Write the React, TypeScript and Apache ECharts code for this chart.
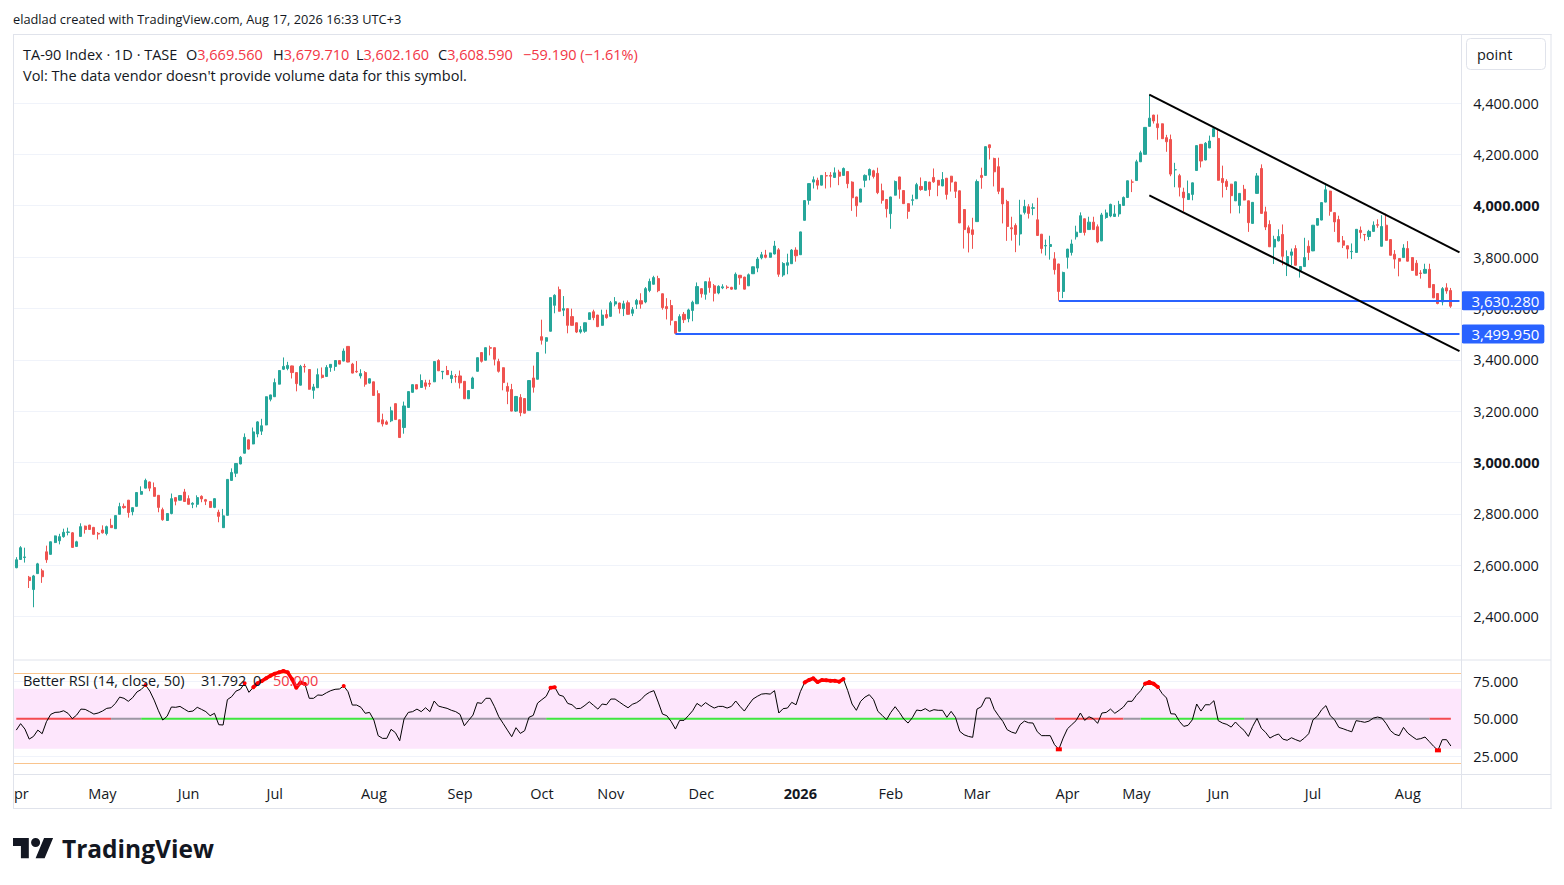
import React, { useEffect, useRef } from 'react';
import * as echarts from 'echarts';

// ---------- DATA: daily candles [open, close, low, high] ----------
const apr2025 = [[2590,2621,2588,2631],[2622,2668,2621,2674],[2630,2632,2610,2668],[2553,2540,2511,2558],[2505,2558,2436,2562],[2567,2605,2566,2609],[2578,2555,2531,2586],[2652,2621,2609,2676],[2642,2691,2641,2692],[2688,2714,2686,2715],[2695,2711,2681,2722],[2711,2728,2707,2742],[2728,2729,2716,2746],[2726,2669,2668,2729],[2673,2691,2671,2695],[2712,2750,2711,2763],[2752,2739,2723,2754],[2756,2739,2737,2757],[2747,2720,2719,2749],[2724,2721,2700,2729]];
const may2025 = [[2737,2726,2723,2755],[2723,2750,2716,2754],[2755,2746,2745,2781],[2742,2793,2741,2794],[2798,2828,2797,2843],[2829,2824,2820,2840],[2853,2805,2785,2854],[2808,2824,2794,2825],[2829,2883,2828,2884],[2876,2887,2875,2907],[2900,2930,2899,2937],[2924,2900,2888,2926],[2902,2868,2867,2922],[2872,2825,2806,2873],[2816,2777,2773,2824],[2774,2801,2772,2802],[2801,2859,2798,2879],[2863,2849,2833,2864],[2853,2871,2852,2872],[2885,2848,2846,2897]];
const jun2025 = [[2859,2837,2836,2872],[2837,2841,2822,2845],[2837,2863,2825,2872],[2868,2858,2845,2872],[2855,2849,2834,2858],[2848,2825,2824,2849],[2825,2859,2822,2860],[2806,2790,2767,2816],[2746,2792,2745,2819],[2794,2934,2793,2935],[2930,2961,2928,2977],[2958,2996,2943,2997],[2994,3020,2993,3025],[3036,3098,3035,3113],[3088,3052,3050,3090],[3072,3119,3071,3136],[3111,3158,3098,3161],[3122,3143,3107,3170],[3146,3256,3145,3257],[3246,3263,3238,3264]];
const jul2025 = [[3256,3311,3255,3327],[3305,3358,3304,3359],[3363,3374,3360,3409],[3366,3378,3359,3392],[3376,3350,3327,3377],[3350,3307,3277,3351],[3301,3374,3300,3380],[3374,3372,3350,3384],[3362,3285,3284,3363],[3281,3294,3248,3306],[3291,3342,3290,3366],[3340,3331,3327,3370],[3335,3370,3334,3379],[3370,3382,3353,3383],[3374,3397,3357,3398],[3397,3383,3382,3398],[3395,3434,3394,3444],[3452,3391,3390,3453],[3383,3348,3347,3388],[3355,3353,3349,3395],[3337,3346,3327,3363],[3350,3305,3295,3356],[3309,3326,3307,3327]];
const aug2025 = [[3314,3261,3260,3315],[3268,3158,3157,3281],[3166,3150,3140,3190],[3158,3149,3146,3164],[3162,3201,3157,3217],[3229,3167,3166,3230],[3166,3097,3096,3167],[3136,3220,3112,3237],[3214,3276,3213,3277],[3273,3303,3272,3304],[3303,3286,3285,3304],[3292,3319,3291,3343],[3310,3297,3284,3322],[3308,3305,3294,3322],[3314,3393,3313,3394],[3397,3357,3356,3402],[3353,3355,3324,3356],[3358,3342,3341,3376],[3327,3339,3309,3357],[3335,3333,3311,3344]];
const sep2025 = [[3337,3310,3288,3358],[3316,3248,3247,3317],[3248,3280,3247,3281],[3288,3329,3287,3334],[3355,3408,3354,3409],[3428,3394,3389,3429],[3398,3447,3397,3448],[3447,3445,3417,3455],[3447,3402,3378,3448],[3393,3355,3350,3404],[3369,3311,3281,3370],[3296,3277,3227,3311],[3284,3200,3199,3306],[3200,3257,3197,3259],[3253,3194,3180,3266],[3249,3192,3191,3250],[3203,3319,3202,3320],[3329,3293,3272,3377],[3324,3428,3323,3430]];
const oct2025 = [[3490,3476,3459,3556],[3472,3486,3424,3487],[3511,3642,3510,3643],[3612,3651,3581,3655],[3673,3589,3588,3685],[3593,3599,3570,3648],[3599,3534,3503,3600],[3568,3534,3533,3599],[3544,3508,3504,3545],[3508,3517,3502,3531],[3511,3544,3505,3545],[3557,3583,3556,3584],[3587,3564,3554,3595],[3574,3529,3527,3575],[3534,3574,3533,3595],[3576,3564,3560,3595]];
const nov2025 = [[3569,3622,3567,3629],[3617,3626,3608,3644],[3621,3599,3580,3622],[3599,3618,3570,3630],[3622,3577,3576,3631],[3581,3595,3570,3605],[3616,3631,3598,3637],[3630,3617,3599,3659],[3625,3677,3620,3683],[3670,3705,3663,3716],[3694,3720,3693,3727],[3716,3669,3663,3727],[3657,3603,3595,3658],[3607,3599,3557,3640],[3611,3554,3534,3633],[3549,3503,3499.95,3551],[3511,3568,3510,3577],[3577,3556,3543,3586],[3560,3594,3546,3599],[3592,3624,3550,3630],[3618,3685,3617,3701]];
const dec2025 = [[3677,3657,3642,3678],[3655,3704,3634,3705],[3704,3681,3661,3720],[3688,3659,3627,3695],[3660,3686,3655,3690],[3680,3684,3675,3694],[3683,3681,3675,3690],[3682,3675,3672,3684],[3675,3733,3674,3740],[3729,3719,3692,3730],[3722,3675,3674,3723],[3688,3731,3687,3736],[3735,3762,3734,3763],[3757,3792,3741,3800],[3797,3809,3791,3820],[3808,3799,3795,3828],[3799,3816,3798,3817],[3812,3843,3810,3863],[3828,3733,3723,3835],[3730,3775,3723,3780],[3768,3778,3733,3813],[3774,3827,3773,3831],[3827,3805,3782,3838]];
const jan2026 = [[3809,3898,3808,3899],[3943,4020,3942,4021],[4021,4086,4004,4087],[4092,4101,4067,4114],[4099,4080,4063,4109],[4080,4118,4079,4119],[4117,4116,4067,4131],[4118,4115,4071,4131],[4110,4128,4109,4149],[4131,4115,4080,4140],[4118,4145,4117,4149],[4133,4086,4068,4134],[4092,4031,3980,4095],[4034,4000,3957,4035],[4014,4065,4013,4066],[4099,4118,4072,4122],[4119,4141,4099,4145],[4136,4114,4106,4140],[4126,4051,4045,4148],[4058,4021,4008,4086],[4024,3988,3954,4025]];
const feb2026 = [[3969,4034,3910,4035],[4041,4094,4040,4098],[4112,4064,4027,4113],[4059,4008,4007,4060],[4008,3978,3949,4009],[4021,4023,4001,4043],[4027,4082,4026,4089],[4075,4063,4058,4110],[4060,4094,4059,4095],[4092,4063,4037,4093],[4110,4093,4089,4145],[4099,4080,4037,4100],[4077,4102,4076,4131],[4107,4044,4024,4108],[4115,4092,4055,4116],[4092,4056,4030,4093],[4058,3933,3932,4059],[3985,3907,3833,3986],[3914,3894,3818,3923],[3906,3888,3832,3953]];
const mar2026 = [[3938,4094,3937,4102],[4118,4110,4066,4148],[4118,4230,4117,4231],[4237,4226,4180,4238],[4184,4132,4075,4187],[4152,4056,4045,4187],[4068,4007,3931,4069],[4016,3919,3863,4023],[3914,3910,3864,3957],[3923,3888,3819,3931],[3890,3964,3845,4023],[3974,3997,3966,4023],[3996,3970,3950,4006],[3990,3992,3963,4009],[3945,3884,3883,4031],[3889,3833,3814,3890],[3843,3845,3806,3868],[3841,3849,3790,3883],[3793,3751,3732,3819],[3773,3666,3630.28,3774],[3666,3740,3640,3743]];
const apr2026 = [[3799,3831,3755,3832],[3818,3851,3806,3868],[3879,3897,3868,3922],[3896,3961,3895,3974],[3949,3896,3884,3950],[3907,3936,3906,3957],[3936,3907,3906,3957],[3918,3859,3854,3927],[3863,3964,3862,3972],[3954,3972,3949,3985],[3960,4005,3955,4008],[3958,3968,3956,4002],[3968,4005,3957,4019],[4001,4032,4000,4036],[4032,4097,4031,4098],[4092,4092,4053,4102]];
const may2026 = [[4098,4171,4097,4179],[4171,4206,4170,4214],[4200,4305,4199,4306],[4309,4341,4308,4433],[4353,4330,4320,4354],[4319,4304,4257,4355],[4319,4261,4260,4320],[4265,4249,4210,4276],[4258,4123,4115,4277],[4140,4140,4072,4167],[4117,4072,4036,4124],[4053,4031,3978,4070],[4024,4047,4023,4098],[4044,4089,4021,4090],[4137,4234,4136,4235],[4239,4174,4149,4240],[4178,4243,4177,4248],[4225,4252,4224,4273],[4269,4300,4268,4305]];
const jun2026 = [[4262,4099,4098,4295],[4106,4090,4032,4156],[4095,4075,4061,4103],[4084,4039,3970,4085],[4019,4093,4018,4094],[4001,4048,3970,4049],[4064,4022,4021,4081],[4019,3934,3898,4020],[3931,4013,3930,4014],[4048,4116,4047,4127],[4145,3970,3969,4161],[3976,3917,3905,3996],[3927,3840,3839,3943],[3839,3869,3773,3883],[3863,3880,3861,3908],[3888,3803,3768,3927],[3766,3802,3726,3826],[3807,3820,3768,3833],[3833,3768,3767,3846],[3748,3763,3720,3764],[3763,3798,3762,3875],[3842,3818,3788,3865]];
const jul2026 = [[3824,3924,3823,3925],[3924,3950,3923,3951],[3944,4012,3943,4013],[4014,4062,4013,4088],[4057,3978,3961,4058],[3973,3937,3898,3974],[3946,3859,3858,3961],[3863,3846,3835,3882],[3844,3831,3794,3845],[3821,3822,3792,3853],[3818,3908,3817,3909],[3904,3896,3872,3919],[3888,3887,3862,3889],[3880,3900,3866,3906],[3900,3924,3899,3939],[3926,3924,3914,3947],[3842,3919,3841,3963],[3924,3865,3864,3969],[3868,3807,3806,3869],[3811,3792,3755,3827],[3794,3784,3725,3795],[3798,3835,3797,3850]];
const aug2026 = [[3833,3784,3783,3862],[3798,3748,3747,3799],[3776,3729,3728,3788],[3738,3736,3716,3749],[3737,3752,3736,3774],[3752,3681,3680,3774],[3693,3641,3640,3694],[3658,3619,3616,3659],[3625,3677,3612,3683],[3680,3667.78,3657,3698],[3669.56,3608.59,3602.16,3679.71]];

// ---------- DATA: Better RSI (14) values per bar ----------
const rsiApr2025 = [42.4,46.7,43.1,36.4,38.2,42.4,40,48,52.9,54.2,54.4,55.3,53.6,50,52.4,56.4,56.2,54.7,53.1,53.8];
const rsiMay2025 = [55.1,56.9,57.3,60.2,64.4,63.6,61.6,64,67.8,69.5,72.4,68.4,62.4,55.3,49.1,51.6,57.8,57.6,58.2,56.4];
const rsiJun2025 = [54.7,55.1,57.6,56.2,54.7,52,53.6,46,45.8,62.7,64.7,68.4,69.6,73.6,67.6,70.9,73.6,75.1,76.9,78.7];
const rsiJul2025 = [80,80.9,81.8,80.9,76.4,70.7,74.2,73.1,63.6,63.6,65.8,65.6,67.3,68.7,69.6,69.8,71.8,68,59.1,59.1,57.6,53.6,54.2];
const rsiAug2025 = [49.1,38.7,36.9,36.9,42.9,40.7,35.3,49.8,54.2,54.7,56.4,54.7,57.3,54.7,61.8,58.4,57.6,56.9,55.6,54.7];
const rsiSep2025 = [52.9,45.3,48.9,52.4,60.7,60.2,63.6,63.6,58,51.3,46.9,42.4,38,44,40.2,42,50.9,52.2,60.4];
const rsiOct2025 = [62.7,64.9,70.7,71,65.8,64.9,60.2,59.3,56.7,56.9,58.9,61.3,58.9,56.4,59.8,59.3];
const rsiNov2025 = [63.1,63.1,61.1,59.1,57.3,59.6,60.7,62.7,65.8,67.6,68.7,61.1,53.1,52,48.2,43.1,48.9,48.9,52,55.3,60.2];
const rsiDec2025 = [58.2,60.7,58.7,57.1,58.2,58.2,57.1,58.2,61.8,58.2,55.1,59.3,63.1,64.9,66.4,66.7,66.4,68.7,53.8,56.7,57.1,60.9,59.3];
const rsiJan2026 = [68,74.2,75.8,76.9,74.4,75.8,75.6,75.3,75.3,74.7,76.4,68.7,59.8,55.6,61.6,64.4,66,62.7,54.9,52.2,49.3];
const rsiFeb2026 = [54.2,58,54.2,49.8,47.1,50.7,55.8,55.3,56.7,54.9,56,55.6,55.6,50.9,54.9,50.9,41.6,39.3,38.2,37.6];
const rsiMar2026 = [56.4,58,63.8,63.8,56.2,52,48.2,42.7,41.1,40.2,46,48.4,47.3,47.1,41.3,38.7,38.7,38.7,32.7,29.6,37.1];
const rsiApr2026 = [43.3,46,48.7,53.8,48.9,51.3,50,46.9,53.8,54.2,56.4,53.6,55.6,57.8,61.6,61.6];
const rsiMay2026 = [65.6,68.7,73.3,74.4,73.3,71.1,66.7,63.8,53.3,53.1,48.2,44.9,45.6,49.3,59.8,55.1,59.3,59.3,62];
const rsiJun2026 = [48.7,47.1,46.2,44.4,47.8,44.7,42.2,38.2,44.9,50.2,43.6,40.9,37.1,38.7,39.8,36.4,35.6,37.3,36,34.9,37.1,40];
const rsiJul2026 = [49.3,51.6,56,58.7,52,49.3,44.2,43.3,42.2,41.3,48.7,48.2,47.6,48.4,50.4,51.1,50.4,46.7,42,39.6,38.7,44.2];
const rsiAug2026 = [40.4,38.2,36.2,36.7,37.8,34.7,31.6,28.9,36,36,31.792];

// month label, candles, rsi
const monthLabels = ['Apr','May','Jun','Jul','Aug','Sep','Oct','Nov','Dec','2026','Feb','Mar','Apr','May','Jun','Jul','Aug'];
const monthCandles = [apr2025,may2025,jun2025,jul2025,aug2025,sep2025,oct2025,nov2025,dec2025,jan2026,feb2026,mar2026,apr2026,may2026,jun2026,jul2026,aug2026];
const monthRsi = [rsiApr2025,rsiMay2025,rsiJun2025,rsiJul2025,rsiAug2025,rsiSep2025,rsiOct2025,rsiNov2025,rsiDec2025,rsiJan2026,rsiFeb2026,rsiMar2026,rsiApr2026,rsiMay2026,rsiJun2026,rsiJul2026,rsiAug2026];
const FUTURE_BARS = 2;

// midline trend state segments [fromBar, toBar, state]
const rsiTrend: [number, number, string][] = [
  [0,22,'bear'],[22,29,'flat'],[29,83,'bull'],[83,123,'flat'],[123,218,'bull'],[218,241,'flat'],
  [241,257,'bear'],[257,261,'flat'],[261,285,'bull'],[285,328,'flat'],[328,333,'bear'],
];
const rsiMidLevel = 50;
const rsiBandLow = 30, rsiBandHigh = 70, rsiOuterHigh = 80, rsiOuterLow = 20;

// drawings
const hLevels = [ { fromBar: 153, price: 3499.95 }, { fromBar: 242, price: 3630.28 } ];
const channelUpper = [[263, 4433], [335, 3818]];
const channelLower = [[263, 4040], [335, 3434]];

const FONT = '"Open Sans", "Noto Sans", sans-serif';
const TEXT = '#131722';
const UP = '#26a69a';
const DOWN = '#ef5350';
const RED_TXT = '#f23645';
const BORDER = '#e0e3eb';
const GRID = '#f0f3fa';

const TV_LOGO = 'M14 22H7V11H0V4h14v18zM28 22h-8l7.5-18h8L28 22zM24 8a4 4 0 1 1-8 0a4 4 0 1 1 8 0z';
let logoRegistered = false;

const fmt = (v: number) => v.toLocaleString('en-US', { minimumFractionDigits: 3, maximumFractionDigits: 3 });

export default function App() {
  const ref = useRef<HTMLDivElement>(null);
  useEffect(() => {
    if (!logoRegistered) {
      echarts.graphic.registerShape('tvLogo', (echarts.graphic as any).extendPath(TV_LOGO, {}));
      logoRegistered = true;
    }
    const chart = echarts.init(ref.current!, null, { renderer: 'svg' });

    const candles: number[][] = [];
    const rsi: number[] = [];
    const categories: string[] = [];
    const labelAt: Record<number, string> = {};
    monthCandles.forEach((arr, mi) => {
      arr.forEach((c, k) => {
        if (k === 0 && mi > 0) labelAt[categories.length] = monthLabels[mi];
        categories.push(`${monthLabels[mi]} #${k + 1} (${mi})`);
        candles.push(c);
      });
      monthRsi[mi].forEach((v) => rsi.push(v));
    });
    for (let k = 0; k < FUTURE_BARS; k++) categories.push(`future ${k + 1}`);

    const last = candles[candles.length - 1];
    const prevClose = candles[candles.length - 2][1];
    const chg = last[1] - prevClose;
    const pct = (chg / prevClose) * 100;
    const signed = (v: number, d: number) => (v < 0 ? '\u2212' : '+') + Math.abs(v).toFixed(d);

    const midSeries = (state: string) =>
      rsi.map((_, i) => (rsiTrend.some(([a, b, s]) => s === state && i >= a && i <= b) ? rsiMidLevel : null));

    const hot = rsi.map((v) => (v >= rsiBandHigh ? v : null));
    const cold = rsi.map((v) => (v <= rsiBandLow ? v : null));

    const GL = 14.14, GW = 1447.5;
    const FS = 14.5;

    const txt = (x: number, y: number, text: string, extra: any = {}) => ({
      type: 'text', x, y, z: 50,
      style: { text, font: `${FS}px ${FONT}`, fill: TEXT, align: 'left', verticalAlign: 'middle', textAlign: 'left', textVerticalAlign: 'middle', ...extra },
    });
    const line = (x1: number, y1: number, x2: number, y2: number) => ({
      type: 'line', z: 60, shape: { x1, y1, x2, y2 }, style: { stroke: BORDER, lineWidth: 1 },
    });
    const richOHLC = (x: number, letter: string, value: number) => ({
      type: 'text', x, y: 54, z: 50,
      style: {
        text: `{a|${letter}}{b|${fmt(value)}}`,
        font: `${FS}px ${FONT}`, align: 'left', verticalAlign: 'middle', textAlign: 'left', textVerticalAlign: 'middle',
        rich: { a: { fill: TEXT, font: `${FS}px ${FONT}` }, b: { fill: RED_TXT, font: `${FS}px ${FONT}` } },
      },
    });

    const option: any = {
      animation: false,
      backgroundColor: '#ffffff',
      grid: [
        { left: GL, top: 51.65, width: GW, height: 616.2 },
        { left: GL, top: 643.7, width: GW, height: 150 },
      ],
      xAxis: [
        { type: 'category', gridIndex: 0, data: categories, boundaryGap: true, show: false },
        {
          type: 'category', gridIndex: 1, data: categories, boundaryGap: true,
          axisLine: { show: false }, axisTick: { show: false }, splitLine: { show: false },
          axisLabel: {
            show: true, margin: -8, color: TEXT, fontSize: FS, fontFamily: FONT,
            interval: (i: number) => labelAt[i] !== undefined,
            formatter: (_v: string, i: number) => (labelAt[i] === '2026' ? '{b|2026}' : labelAt[i] ?? ''),
            rich: { b: { fontWeight: 'bold', fontSize: FS, fontFamily: FONT, color: TEXT } },
          },
        },
      ],
      yAxis: [
        {
          type: 'value', gridIndex: 0, position: 'right', min: 2200, max: 4600, interval: 200,
          axisLine: { show: false }, axisTick: { show: false },
          axisLabel: {
            margin: 11.5, color: TEXT, fontSize: FS, fontFamily: FONT,
            formatter: (v: number) => (v <= 2200 || v >= 4600 ? '' : v % 1000 === 0 ? `{b|${fmt(v)}}` : fmt(v)),
            rich: { b: { fontWeight: 'bold', fontSize: FS, fontFamily: FONT, color: TEXT } },
          },
          splitLine: { show: true, showMinLine: false, showMaxLine: false, lineStyle: { color: GRID, width: 1 } },
        },
        {
          type: 'value', gridIndex: 1, position: 'right', min: 0, max: 100, interval: 25,
          axisLine: { show: false }, axisTick: { show: false },
          axisLabel: {
            margin: 11.5, color: TEXT, fontSize: FS, fontFamily: FONT,
            formatter: (v: number) => (v > 0 && v < 100 ? fmt(v) : ''),
          },
          splitLine: { show: true, showMinLine: false, showMaxLine: false, lineStyle: { color: GRID, width: 1 } },
        },
      ],
      series: [
        {
          type: 'candlestick', name: 'TA-90 Index', xAxisIndex: 0, yAxisIndex: 0, data: candles,
          barWidth: 2.6,
          itemStyle: { color: UP, color0: DOWN, borderColor: UP, borderColor0: DOWN, borderWidth: 1 },
          markLine: {
            silent: true, symbol: ['none', 'none'], animation: false, z: 6,
            data: [
              ...hLevels.map((l) => [
                {
                  coord: [l.fromBar, l.price],
                  lineStyle: { color: '#2962ff', width: 2, type: 'solid' },
                  label: {
                    show: true, position: 'end', formatter: fmt(l.price), distance: 2,
                    color: '#ffffff', backgroundColor: '#2962ff', padding: [2, 5, 2, 10], borderRadius: 2,
                    fontSize: 15, fontFamily: FONT,
                  },
                },
                { coord: [categories.length - 1, l.price] },
              ]),
              [
                { coord: channelUpper[0], lineStyle: { color: '#000000', width: 2, type: 'solid' }, label: { show: false } },
                { coord: channelUpper[1] },
              ],
              [
                { coord: channelLower[0], lineStyle: { color: '#000000', width: 2, type: 'solid' }, label: { show: false } },
                { coord: channelLower[1] },
              ],
            ],
          },
        },
        {
          type: 'line', name: 'RSI', xAxisIndex: 1, yAxisIndex: 1, data: rsi, showSymbol: false, z: 4,
          lineStyle: { color: '#000000', width: 1 },
          markArea: {
            silent: true, z: 1,
            itemStyle: { color: '#fde6fc' },
            data: [[{ yAxis: rsiBandLow }, { yAxis: rsiBandHigh }]],
          },
          markLine: {
            silent: true, symbol: ['none', 'none'], z: 2, label: { show: false },
            lineStyle: { color: '#f9c48d', width: 1, type: 'solid' },
            data: [{ yAxis: rsiOuterHigh }, { yAxis: rsiOuterLow }],
          },
        },
        ...[['bear', '#f44b4f'], ['flat', '#9c97a3'], ['bull', '#3fe63f']].map(([s, c]) => ({
          type: 'line', xAxisIndex: 1, yAxisIndex: 1, data: midSeries(s), showSymbol: false, z: 3,
          connectNulls: false, lineStyle: { color: c, width: 2 },
        })),
        {
          type: 'line', xAxisIndex: 1, yAxisIndex: 1, data: hot, z: 5, connectNulls: false,
          showSymbol: true, showAllSymbol: true, symbol: 'circle', symbolSize: 4,
          itemStyle: { color: '#ff0000' }, lineStyle: { color: '#ff0000', width: 3.5 },
        },
        {
          type: 'line', xAxisIndex: 1, yAxisIndex: 1, data: cold, z: 5, connectNulls: false,
          showSymbol: true, showAllSymbol: true, symbol: 'rect', symbolSize: [6, 4],
          itemStyle: { color: '#ff0000' }, lineStyle: { color: '#ff0000', width: 3.5 },
        },
      ],
      graphic: [
        txt(13, 19, 'eladlad created with TradingView.com, Aug 17, 2026 16:33 UTC+3', { font: `12.8px ${FONT}` }),
        line(13, 34.5, 1551.5, 34.5),
        line(13, 808.5, 1551.5, 808.5),
        line(13.5, 34, 13.5, 809),
        line(1551, 34, 1551, 809),
        line(1461.5, 34, 1461.5, 809),
        line(13, 660, 1551, 660),
        line(13, 774.5, 1551, 774.5),
        txt(23, 54, 'TA-90 Index \u00b7 1D \u00b7 TASE'),
        richOHLC(186, 'O', last[0]),
        richOHLC(273, 'H', last[3]),
        richOHLC(356, 'L', last[2]),
        richOHLC(438, 'C', last[1]),
        txt(523, 54, `${signed(chg, 3)} (${signed(pct, 2)}%)`, { fill: RED_TXT }),
        txt(23, 75, "Vol: The data vendor doesn't provide volume data for this symbol."),
        { type: 'rect', z: 50, shape: { x: 1466.5, y: 38.5, width: 79, height: 31, r: 4 }, style: { fill: '#ffffff', stroke: BORDER, lineWidth: 1 } },
        txt(1477, 54, 'point'),
        txt(23, 680, 'Better RSI (14, close, 50)'),
        txt(201, 680, rsi[rsi.length - 1].toFixed(3)),
        txt(253, 680, '0'),
        txt(273, 680, fmt(rsiMidLevel), { fill: RED_TXT }),
        txt(14, 793, 'pr'),
        { type: 'tvLogo', x: 13, y: 833.5, scaleX: 1.13, scaleY: 1.13, z: 50, style: { fill: TEXT } },
        txt(62, 848, 'TradingView', { font: `bold 24.5px ${FONT}` }),
      ],
    };
    chart.setOption(option);
    return () => chart.dispose();
  }, []);
  return (
    <div
      ref={ref}
      style={{ position: 'fixed', left: 0, top: 0, width: 1564, height: 885, background: '#ffffff' }}
    />
  );
}
